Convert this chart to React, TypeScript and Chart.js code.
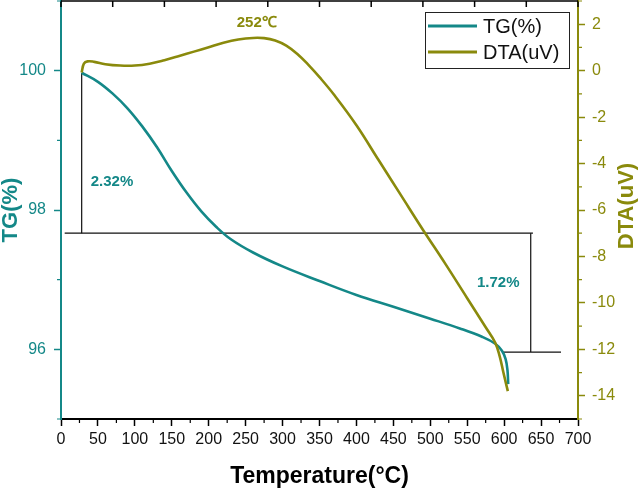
import React, { useEffect, useRef } from "react";
import { Chart, registerables } from "chart.js";

Chart.register(...registerables);

const TEAL = "#148888";
const OLIVE = "#8a8a0c";
const FONT = "'Liberation Sans', Arial, sans-serif";

// TG curve (temperature °C, mass %)
const tgTemps = [28, 50, 70, 90, 110, 130, 150, 170, 190, 210, 230, 260, 300, 350, 400, 450, 500, 540, 570, 588, 597, 602, 604.5, 605.5];
const tgValues = [99.97, 99.84, 99.67, 99.46, 99.2, 98.9, 98.56, 98.25, 97.98, 97.76, 97.58, 97.39, 97.19, 96.98, 96.78, 96.61, 96.44, 96.3, 96.18, 96.08, 95.98, 95.86, 95.7, 95.5];

// DTA curve (temperature °C, uV)
const dtaTemps = [28, 31, 36, 45, 60, 80, 100, 120, 140, 160, 180, 200, 220, 240, 260, 275, 290, 305, 320, 335, 350, 370, 400, 430, 460, 490, 520, 550, 575, 588, 594, 599, 605];
const dtaValues = [-0.08, 0.3, 0.4, 0.38, 0.28, 0.22, 0.22, 0.3, 0.45, 0.63, 0.82, 1.01, 1.2, 1.34, 1.41, 1.4, 1.3, 1.08, 0.72, 0.25, -0.28, -1.05, -2.35, -3.85, -5.35, -6.85, -8.3, -9.8, -11.05, -11.72, -12.3, -13.0, -13.8];

// axis ticks
const xMajorTicks = [0, 50, 100, 150, 200, 250, 300, 350, 400, 450, 500, 550, 600, 650, 700];
const xMinorTicks = [25, 75, 125, 175, 225, 275, 325, 375, 425, 475, 525, 575, 625, 675];
const tgMajorTicks = [96, 98, 100];
const tgMinorTicks = [95, 97, 99, 101];
const dtaMajorTicks = [-14, -12, -10, -8, -6, -4, -2, 0, 2];
const dtaMinorTicks = [-15, -13, -11, -9, -7, -5, -3, -1, 1, 3];
const topTickCount = 10;

// mass-loss bracket segments (on TG axis)
const bracketTemps = [[28, 28], [5, 639], [636, 636], [598, 677]];
const bracketValues = [[99.97, 97.667], [97.667, 97.667], [97.667, 95.96], [95.96, 95.96]];

// annotations
const noteTexts = ["2.32%", "1.72%", "252℃"];
const noteTemps = [69, 592, 265];
const noteValues = [98.4, 96.96, 2.06];
const noteAxes = ["y", "y", "y2"];
const noteColors = [TEAL, TEAL, OLIVE];

const legendLabels = ["TG(%)", "DTA(uV)"];
const legendColors = [TEAL, OLIVE];

const decorPlugin = {
  id: "decor",
  afterDatasetsDraw(chart: any) {
    const ctx = chart.ctx;
    const { left, right, top, bottom } = chart.chartArea;
    const xs = chart.scales.x;
    const ys = chart.scales.y;
    const y2s = chart.scales.y2;
    ctx.save();
    // top frame + inward ticks
    ctx.strokeStyle = "#000";
    ctx.lineWidth = 1.5;
    ctx.beginPath();
    ctx.moveTo(left, top);
    ctx.lineTo(right, top);
    for (let i = 0; i <= topTickCount; i++) {
      const px = left + ((right - left) * i) / topTickCount;
      ctx.moveTo(px, top);
      ctx.lineTo(px, top + 6);
    }
    ctx.stroke();
    // minor ticks
    ctx.lineWidth = 1.2;
    ctx.strokeStyle = "#000";
    ctx.beginPath();
    xMinorTicks.forEach((v) => {
      const px = xs.getPixelForValue(v);
      ctx.moveTo(px, bottom);
      ctx.lineTo(px, bottom + 4);
    });
    ctx.stroke();
    ctx.strokeStyle = TEAL;
    ctx.beginPath();
    tgMinorTicks.forEach((v) => {
      const py = ys.getPixelForValue(v);
      ctx.moveTo(left - 4, py);
      ctx.lineTo(left, py);
    });
    ctx.stroke();
    ctx.strokeStyle = OLIVE;
    ctx.beginPath();
    dtaMinorTicks.forEach((v) => {
      const py = y2s.getPixelForValue(v);
      ctx.moveTo(right, py);
      ctx.lineTo(right + 4, py);
    });
    ctx.stroke();

    // notes
    ctx.font = `bold 15px ${FONT}`;
    ctx.textAlign = "center";
    ctx.textBaseline = "middle";
    noteTexts.forEach((t, i) => {
      const sc = chart.scales[noteAxes[i]];
      ctx.fillStyle = noteColors[i];
      ctx.fillText(t, xs.getPixelForValue(noteTemps[i]), sc.getPixelForValue(noteValues[i]));
    });

    // right title (reads bottom to top)
    ctx.save();
    ctx.translate(chart.width - 13, (top + bottom) / 2 - 4);
    ctx.rotate(-Math.PI / 2);
    ctx.font = `bold 22px ${FONT}`;
    ctx.fillStyle = OLIVE;
    ctx.fillText("DTA(uV)", 0, 0);
    ctx.restore();

    // legend
    const bx = right - 153;
    const by = top + 11;
    const bw = 144;
    const bh = 56;
    ctx.fillStyle = "#fff";
    ctx.fillRect(bx, by, bw, bh);
    ctx.strokeStyle = "#222";
    ctx.lineWidth = 1;
    ctx.strokeRect(bx + 0.5, by + 0.5, bw, bh);
    ctx.font = `20px ${FONT}`;
    ctx.textAlign = "left";
    ctx.textBaseline = "middle";
    legendLabels.forEach((lab, i) => {
      const ly = by + 14 + i * 26;
      ctx.strokeStyle = legendColors[i];
      ctx.lineWidth = 3;
      ctx.beginPath();
      ctx.moveTo(bx + 3, ly);
      ctx.lineTo(bx + 52, ly);
      ctx.stroke();
      ctx.fillStyle = "#111";
      ctx.fillText(lab, bx + 58, ly + 1);
    });
    ctx.restore();
  },
};

export default function App() {
  const ref = useRef<HTMLCanvasElement | null>(null);
  useEffect(() => {
    document.body.style.margin = "0";
    const canvas = ref.current;
    if (!canvas) return;
    const datasets: any[] = [
      {
        label: "DTA(uV)",
        data: dtaTemps.map((t, i) => ({ x: t, y: dtaValues[i] })),
        borderColor: OLIVE,
        borderWidth: 2.6,
        pointRadius: 0,
        tension: 0.4,
        yAxisID: "y2",
        order: 0,
      },
      {
        label: "TG(%)",
        data: tgTemps.map((t, i) => ({ x: t, y: tgValues[i] })),
        borderColor: TEAL,
        borderWidth: 2.6,
        pointRadius: 0,
        tension: 0.4,
        yAxisID: "y",
        order: 1,
      },
      ...bracketTemps.map((seg, k) => ({
        label: "bracket" + k,
        data: seg.map((t, i) => ({ x: t, y: bracketValues[k][i] })),
        borderColor: "#111",
        borderWidth: 1.2,
        pointRadius: 0,
        tension: 0,
        yAxisID: "y",
        order: 2,
      })),
    ];
    const tickFont = { family: FONT, size: 16 };
    const chart = new Chart(canvas, {
      type: "line",
      data: { datasets },
      plugins: [decorPlugin],
      options: {
        responsive: false,
        animation: false,
        events: [],
        layout: { padding: { top: 1, left: 0, right: 0, bottom: 0 }, autoPadding: false },
        plugins: { legend: { display: false }, tooltip: { enabled: false } },
        scales: {
          x: {
            type: "linear",
            min: 0,
            max: 700,
            afterBuildTicks: (s: any) => {
              s.ticks = xMajorTicks.map((v) => ({ value: v }));
            },
            afterFit: (s: any) => {
              s.height = 71;
              s.paddingLeft = 0;
              s.paddingRight = 0;
            },
            ticks: { color: "#111", font: tickFont, padding: 4, maxRotation: 0, autoSkip: false },
            grid: { drawOnChartArea: false, drawTicks: true, tickLength: 7, tickColor: "#000", tickWidth: 1.5 },
            border: { color: "#000", width: 2 },
            title: {
              display: true,
              text: "Temperature(°C)",
              color: "#000",
              font: { family: FONT, size: 23, weight: "bold" },
              padding: { top: 0, bottom: 0 },
            },
          },
          y: {
            type: "linear",
            position: "left",
            min: 95,
            max: 101,
            afterBuildTicks: (s: any) => {
              s.ticks = tgMajorTicks.map((v) => ({ value: v }));
            },
            afterFit: (s: any) => {
              s.width = 61;
              s.paddingTop = 0;
              s.paddingBottom = 0;
            },
            ticks: { color: TEAL, font: tickFont, padding: 8 },
            grid: { drawOnChartArea: false, drawTicks: true, tickLength: 7, tickColor: TEAL, tickWidth: 1.5 },
            border: { color: TEAL, width: 2 },
            title: {
              display: true,
              text: "TG(%)",
              color: TEAL,
              font: { family: FONT, size: 22, weight: "bold", lineHeight: 1 },
              padding: { top: 0, bottom: 0 },
            },
          },
          y2: {
            type: "linear",
            position: "right",
            min: -15,
            max: 3,
            afterBuildTicks: (s: any) => {
              s.ticks = dtaMajorTicks.map((v) => ({ value: v }));
            },
            afterFit: (s: any) => {
              s.width = 62;
              s.paddingTop = 0;
              s.paddingBottom = 0;
            },
            ticks: { color: OLIVE, font: tickFont, padding: 7 },
            grid: { drawOnChartArea: false, drawTicks: true, tickLength: 7, tickColor: OLIVE, tickWidth: 1.5 },
            border: { color: OLIVE, width: 2 },
          },
        },
      } as any,
    });
    return () => chart.destroy();
  }, []);
  return (
    <div style={{ position: "absolute", left: 0, top: 0, width: 640, height: 490, background: "#fff" }}>
      <canvas ref={ref} width={640} height={490} style={{ display: "block" }} />
    </div>
  );
}
